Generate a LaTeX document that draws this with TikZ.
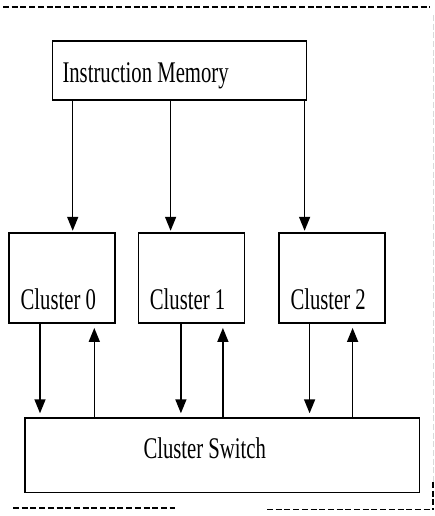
\documentclass[tikz,border=0pt]{standalone}
\usepackage{fontspec}
\setmainfont{Liberation Serif}[FakeStretch=0.69]
\usetikzlibrary{arrows.meta, positioning}

\begin{document}
\begin{tikzpicture}[x=1pt, y=-1pt,
    box/.style={rectangle, draw=black, line width=1.6pt, inner ysep=0pt,
                align=flush left, font=\fontsize{30}{36}\selectfont},
    cluster/.style={box, text width=83pt, inner xsep=11.5pt,
                text height=76pt, text depth=14pt},
    arrow/.style={-{Triangle[width=11pt, length=14pt]}, line width=1.5pt, shorten >=4pt},
    frame/.style={dash pattern=on 6pt off 2.7pt, line width=1.5pt}
]
    \useasboundingbox (0,0) rectangle (435,516);

    \node[box, anchor=north west, text width=234pt, inner xsep=10pt,
          text height=42pt, text depth=17pt] (im) at (51.7,40) {Instruction Memory};
    \node[cluster, anchor=north west] (c0) at (8.3,232.3) {Cluster 0};
    \node[cluster, right=21.7pt of c0] (c1) {Cluster 1};
    \node[cluster, right=33pt of c1] (c2) {Cluster 2};
    \node[box, anchor=north west, text width=157.3pt, inner xsep=118.7pt,
          text height=40pt, text depth=34.4pt] (sw) at (24,417.3) {Cluster Switch};

    % arrows from the memory
    \coordinate (i0) at ([xshift=64.4pt]c0.north west);
    \coordinate (i1) at ([xshift=33pt]c1.north west);
    \coordinate (i2) at ([xshift=26.4pt]c2.north west);
    \draw[arrow, shorten >=1.5pt] (i0 |- im.south) -- (i0);
    \draw[arrow, shorten >=1.5pt] (i1 |- im.south) -- (i1);
    \draw[arrow, shorten >=1.5pt] (i2 |- im.south) -- (i2);

    % clusters <-> switch
    \coordinate (d0) at ([xshift=31.7pt]c0.south west);
    \coordinate (u0) at ([xshift=86pt]c0.south west);
    \coordinate (d1) at ([xshift=43.3pt]c1.south west);
    \coordinate (u1) at ([xshift=85.3pt]c1.south west);
    \coordinate (d2) at ([xshift=31.4pt]c2.south west);
    \coordinate (u2) at ([xshift=74.4pt]c2.south west);
    \draw[arrow] (d0) -- (d0 |- sw.north);
    \draw[arrow] (u0 |- sw.north) -- (u0);
    \draw[arrow] (d1) -- (d1 |- sw.north);
    \draw[arrow] (u1 |- sw.north) -- (u1);
    \draw[arrow] (d2) -- (d2 |- sw.north);
    \draw[arrow] (u2 |- sw.north) -- (u2);

    % dashed frame
    \draw[frame] (3,7) -- (430,7);
    \draw[frame] (13,508) -- (175,508);
    \draw[frame] (267,509.5) -- (433,509.5);
    \draw[frame, black!15, line width=1pt] (433,15) -- (433,482);
    \draw[frame] (433,482) -- (433,509.5);
\end{tikzpicture}
\end{document}
